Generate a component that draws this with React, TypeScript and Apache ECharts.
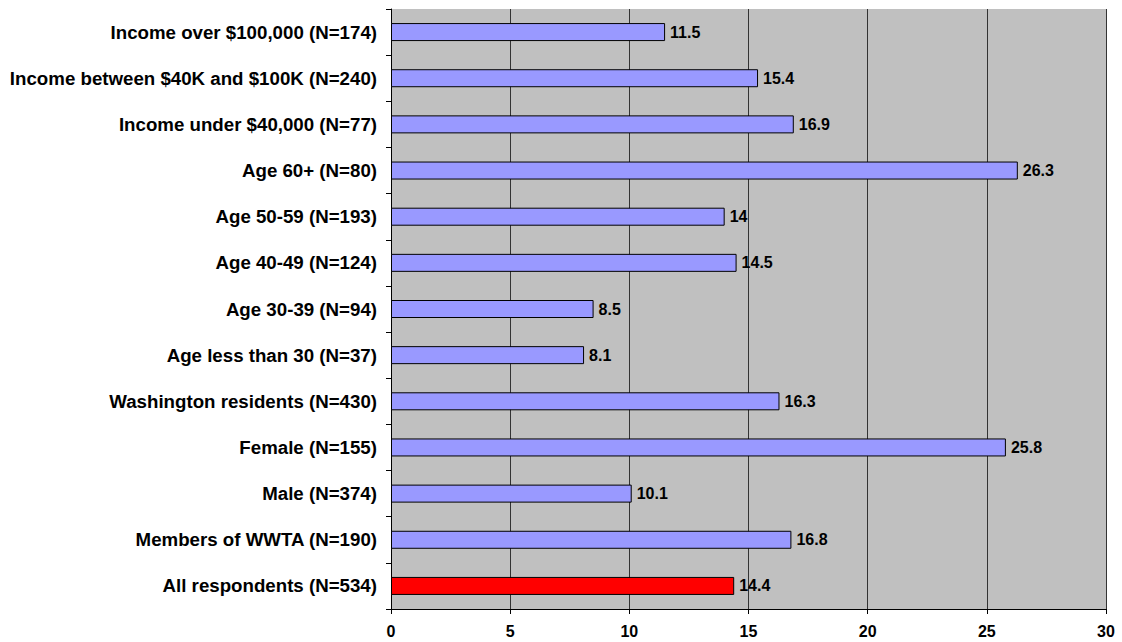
import React, { useEffect, useRef } from "react";
import * as echarts from "echarts";

const categories = [
  "Income over $100,000 (N=174)",
  "Income between $40K and $100K (N=240)",
  "Income under $40,000 (N=77)",
  "Age 60+ (N=80)",
  "Age 50-59 (N=193)",
  "Age 40-49 (N=124)",
  "Age 30-39 (N=94)",
  "Age less than 30 (N=37)",
  "Washington residents (N=430)",
  "Female (N=155)",
  "Male (N=374)",
  "Members of WWTA (N=190)",
  "All respondents (N=534)",
];
const values = [11.5, 15.4, 16.9, 26.3, 14, 14.5, 8.5, 8.1, 16.3, 25.8, 10.1, 16.8, 14.4];
const highlight = "All respondents (N=534)";
const xTicks = { min: 0, max: 30, interval: 5 };

export default function App() {
  const ref = useRef<HTMLDivElement>(null);
  useEffect(() => {
    document.body.style.margin = "0";
    const chart = echarts.init(ref.current!, undefined, { renderer: "svg" });
    const font = "'Liberation Sans', Arial, sans-serif";
    chart.setOption({
      animation: false,
      grid: {
        left: 391,
        right: 16,
        top: 9,
        bottom: 33,
        show: true,
        backgroundColor: "#C0C0C0",
        borderWidth: 0,
      },
      xAxis: {
        type: "value",
        min: xTicks.min,
        max: xTicks.max,
        interval: xTicks.interval,
        axisLine: { show: true, lineStyle: { color: "#000", width: 1 } },
        axisTick: { show: true, length: 5, lineStyle: { color: "#000" } },
        axisLabel: {
          color: "#000",
          fontWeight: "bold",
          fontSize: 16,
          fontFamily: font,
          margin: 14,
        },
        splitLine: { show: true, lineStyle: { color: "#333", width: 1 } },
      },
      yAxis: {
        type: "category",
        data: categories,
        inverse: true,
        axisLine: { show: true, lineStyle: { color: "#000", width: 1 } },
        axisTick: { show: true, length: 5, lineStyle: { color: "#000" } },
        axisLabel: {
          color: "#000",
          fontWeight: "bold",
          fontSize: 18.7,
          fontFamily: font,
          margin: 14,
        },
        splitLine: { show: false },
      },
      series: [
        {
          type: "bar",
          data: values.map((v, i) => ({
            value: v,
            itemStyle: {
              color: categories[i] === highlight ? "#FF0000" : "#9999FF",
            },
          })),
          barWidth: 18,
          itemStyle: { borderColor: "#000", borderWidth: 1 },
          label: {
            show: true,
            position: "right",
            distance: 5,
            color: "#000",
            fontWeight: "bold",
            fontSize: 16,
            fontFamily: font,
          },
        },
      ],
    });
    return () => chart.dispose();
  }, []);
  return <div ref={ref} style={{ width: 1122, height: 642 }} />;
}
